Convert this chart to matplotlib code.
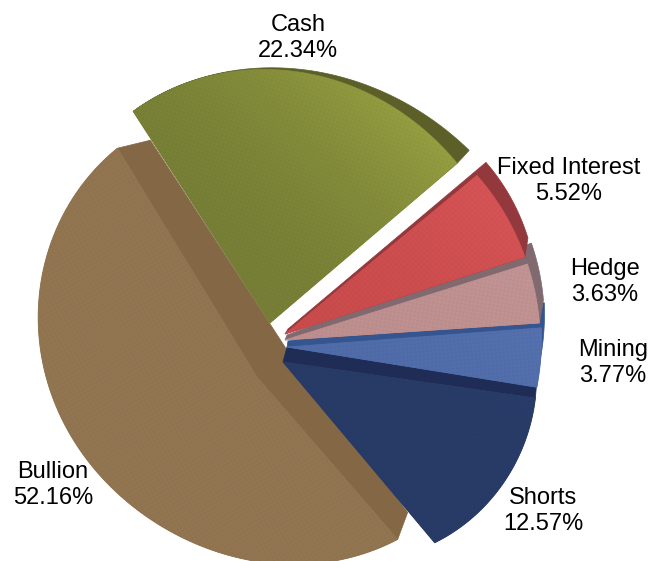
import numpy as np
import matplotlib
matplotlib.use("Agg")
import matplotlib.pyplot as plt
from matplotlib.colors import to_rgb
from matplotlib.patches import Polygon

plt.rcParams["font.family"] = ["Liberation Sans", "DejaVu Sans"]

# ==============================
# DATA (clockwise from the top left)
# ==============================
labels = ["Cash", "Fixed Interest", "Hedge", "Mining", "Shorts", "Bullion"]
values = [22.34, 5.52, 3.63, 3.77, 12.57, 52.16]

# ==============================
# STYLE / GEOMETRY, everything in image pixels
# ==============================
start_angle = 122.0
apex = [(270, 323), (285, 334), (285, 340), (287, 347), (283, 362), (257, 377)]
# small corrections to the slice edges, the original has a perspective view
nudge = [(0.9, -1.1), (-2.0, -3.9), (-4.3, -4.8), (-4.3, -4.2), (-3.2, 0.2), (1.1, -0.6)]
# distance apex -> rim along each slice
rho_t = [
    [0, 1 / 3, 2 / 3, 1],
    [0, 1],
    [0, 1],
    [0, 1],
    [0, 0.4, 1],
    [0, 0.098, 0.377, 0.548, 0.786, 1],
]
rho = [
    [252, 254, 250, 246],
    [249, 252],
    [254, 255],
    [255, 253],
    [255, 253, 236],
    [215, 199, 177.5, 188, 230, 268],
]
# back face offsets: at apex, first rim corner, last rim corner
depth = [
    [(0, 0), (12, -13), (0, 0)],
    [(3, -5), (9, -13), (3, -19)],
    [(2, -5), (4, -21), (4, -23)],
    [(1, -6), (3, -25), (3, -25)],
    [(4, -15), (2, -25), (0, 0)],
    [(30, -27), (10, -27), (33, -8)],
]
face_dark = ["#767E36", "#C94B4C", "#BC8E8E", "#4F6BA8", "#283B66", "#917450"]
face_light = ["#A2AB44", "#D95759", "#C49696", "#5B76B4", "#2C4070", "#97794F"]
side_col = ["#5C6028", "#93383C", "#806A70", "#34558F", "#1F2C55", "#846745"]
weave_ang = [20, 45, 10, -5, -10, 60]
draw_order = [5, 4, 3, 2, 1, 0]

label_xy = [(298, 38), (569, 181), (605, 282), (613, 363), (543, 511), (53, 485)]

W, H = 657, 561


def slice_rim(i, a0, a1, n=120):
    t = np.linspace(0, 1, n)
    deg = min(len(rho[i]) - 1, 4)
    r = np.polyval(np.polyfit(rho_t[i], rho[i], deg), t)
    th = np.radians(a0 + (a1 - a0) * t)
    ax0, ay0 = apex[i]
    return t, np.column_stack([ax0 + r * np.cos(th), ay0 - r * np.sin(th)])


def face_image(i):
    # two colour gradient plus a faint woven texture
    yy, xx = np.mgrid[0:H, 0:W] + 0.5
    a = np.radians(weave_ang[i])
    u = xx * np.cos(a) + yy * np.sin(a)
    v = -xx * np.sin(a) + yy * np.cos(a)
    grad = (xx - yy - (apex[i][0] - apex[i][1])) / 420
    grad = np.clip(grad, 0, 1)[..., None] ** 2
    dark = np.array(to_rgb(face_dark[i]))
    light = np.array(to_rgb(face_light[i]))
    img = dark + (light - dark) * grad
    weave = 1 + 0.009 * np.sin(u * 2 * np.pi / 4) + 0.009 * np.sin(v * 2 * np.pi / 4)
    return np.clip(img * weave[..., None], 0, 1)


fig = plt.figure(figsize=(W / 100, H / 100), dpi=100)
ax = fig.add_axes([0, 0, 1, 1])
ax.set_xlim(0, W)
ax.set_ylim(H, 0)
ax.axis("off")

edges = start_angle - np.concatenate([[0], np.cumsum(values)]) * 3.6 / (sum(values) / 100)

for z, i in enumerate(draw_order):
    a0 = edges[i] + nudge[i][0]
    a1 = edges[i + 1] + nudge[i][1]
    t, rim = slice_rim(i, a0, a1)
    pa = np.array(apex[i], dtype=float)

    # back / side of the slice
    d_apex, d0, d1 = [np.array(d, dtype=float) for d in depth[i]]
    if i == 5:
        # bullion side band is a flat strip between the two straight edges
        side = np.vstack([[pa], rim[[0]], rim[[0]] + d0, [pa + d_apex], rim[[-1]] + d1, rim[[-1]]])
    elif i == 4:
        # shorts only shows its side along the top edge, under mining
        side = np.vstack([[pa], [pa + d_apex], rim[[0]] + d0, rim[[0]]])
    elif i == 0:
        # the cash rim only shows from the top of the arc to the right corner
        # depth[0][1] is the offset reached at the right corner
        off = d0 * (t[..., None] ** 2.2)
        side = np.vstack([rim, (rim + off)[::-1]])
    else:
        off = d0 + (d1 - d0) * t[..., None]
        side = np.vstack([[pa], [pa + d_apex], rim + off, rim[[-1]]])
    ax.add_patch(Polygon(side, closed=True, fc=side_col[i], ec=side_col[i], lw=0.5, zorder=10 + z * 2))

    # front face
    pts = np.vstack([[pa], rim])
    poly = Polygon(pts, closed=True, fc=face_dark[i], ec=face_dark[i], lw=0.6, zorder=11 + z * 2)
    ax.add_patch(poly)
    im = ax.imshow(face_image(i), extent=(0, W, H, 0), aspect="auto", zorder=11 + z * 2, interpolation="bilinear")
    im.set_clip_path(poly)

ax.set_xlim(0, W)
ax.set_ylim(H, 0)

for name, val, (x, y) in zip(labels, values, label_xy):
    ax.text(x, y, f"{name}\n{val:.2f}%", ha="center", va="center", fontsize=17,
            linespacing=1.25, color="black", zorder=40)

fig.savefig("out.png", dpi=100, facecolor="white")
